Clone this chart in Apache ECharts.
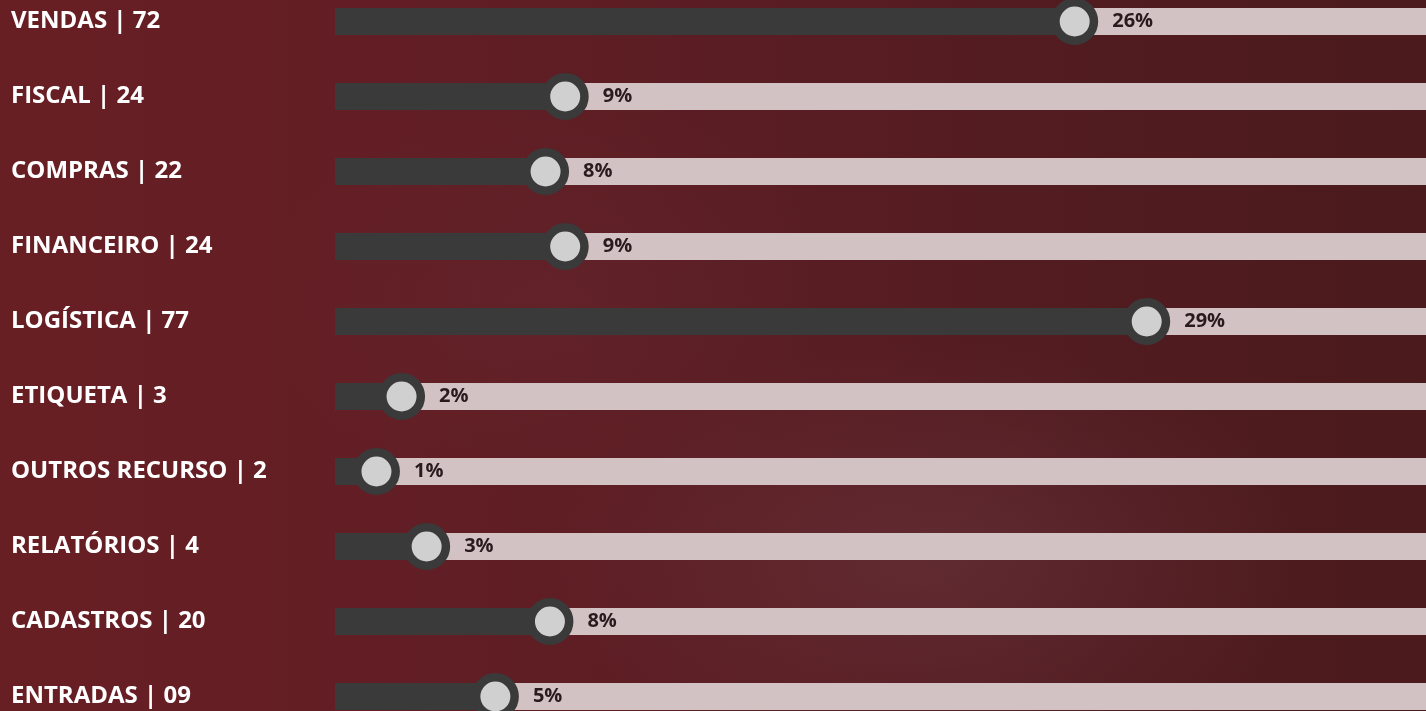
<!DOCTYPE html>
<html>
<head>
<meta charset="utf-8">
<script src="https://cdn.jsdelivr.net/npm/echarts@6/dist/echarts.min.js"></script>
<style>
  html, body { margin: 0; padding: 0; width: 100%; height: 100%; overflow: hidden; }
  body {
    position: relative;
    background:
      radial-gradient(ellipse 380px 220px at 930px 560px, rgba(120, 70, 80, 0.35), rgba(120, 70, 80, 0) 100%),
      radial-gradient(ellipse 300px 200px at 560px 300px, rgba(110, 50, 60, 0.2), rgba(110, 50, 60, 0) 100%),
      linear-gradient(90deg, #681f24 0%, #601e24 35%, #531c21 70%, #4a1a1c 100%);
  }
  /* rows in the reference sit a little beyond the window edges */
  #chart { position: absolute; left: 0; top: -16px; width: 1426px; height: 750px; }
</style>
</head>
<body>
<div id="chart"></div>
<script>
// categorias, contagens e percentuais como aparecem no painel
const categories = ['VENDAS', 'FISCAL', 'COMPRAS', 'FINANCEIRO', 'LOGÍSTICA', 'ETIQUETA', 'OUTROS RECURSO', 'RELATÓRIOS', 'CADASTROS', 'ENTRADAS'];
const counts = ['72', '24', '22', '24', '77', '3', '2', '4', '20', '09'];
const percents = [26, 9, 8, 9, 29, 2, 1, 3, 8, 5];
// posição do marcador na trilha (0-100)
const progress = [67.8, 21.1, 19.3, 21.1, 74.4, 6.1, 3.8, 8.4, 19.7, 14.7];

const chart = echarts.init(document.getElementById('chart'));

const option = {
  backgroundColor: 'transparent',
  animation: false,
  grid: {
    left: 335,
    right: 0,
    top: 0,
    bottom: 0
  },
  xAxis: {
    type: 'value',
    min: 0,
    max: 100,
    show: false
  },
  yAxis: {
    type: 'category',
    inverse: true,
    data: categories.map((c, i) => c + ' | ' + counts[i]),
    axisLine: { show: false },
    axisTick: { show: false },
    axisLabel: {
      color: '#ffffff',
      fontFamily: 'Open Sans',
      fontWeight: 'bold',
      fontSize: 24,
      align: 'left',
      margin: 324
    }
  },
  series: [
    {
      type: 'bar',
      data: progress,
      barWidth: 27,
      itemStyle: { color: '#3a3a3a' },
      showBackground: true,
      backgroundStyle: { color: '#d3c2c4' },
      z: 2
    },
    {
      type: 'scatter',
      data: progress,
      symbol: 'circle',
      symbolSize: 38.5,
      itemStyle: {
        color: '#d0d0d0',
        borderColor: '#3a3a3a',
        borderWidth: 8.5,
        opacity: 1
      },
      label: {
        show: true,
        position: 'right',
        distance: 14,
        formatter: p => percents[p.dataIndex] + '%',
        color: '#2b1a1d',
        fontFamily: 'Open Sans',
        fontWeight: 'bold',
        fontSize: 20
      },
      z: 5
    }
  ]
};

chart.setOption(option);
</script>
</body>
</html>
